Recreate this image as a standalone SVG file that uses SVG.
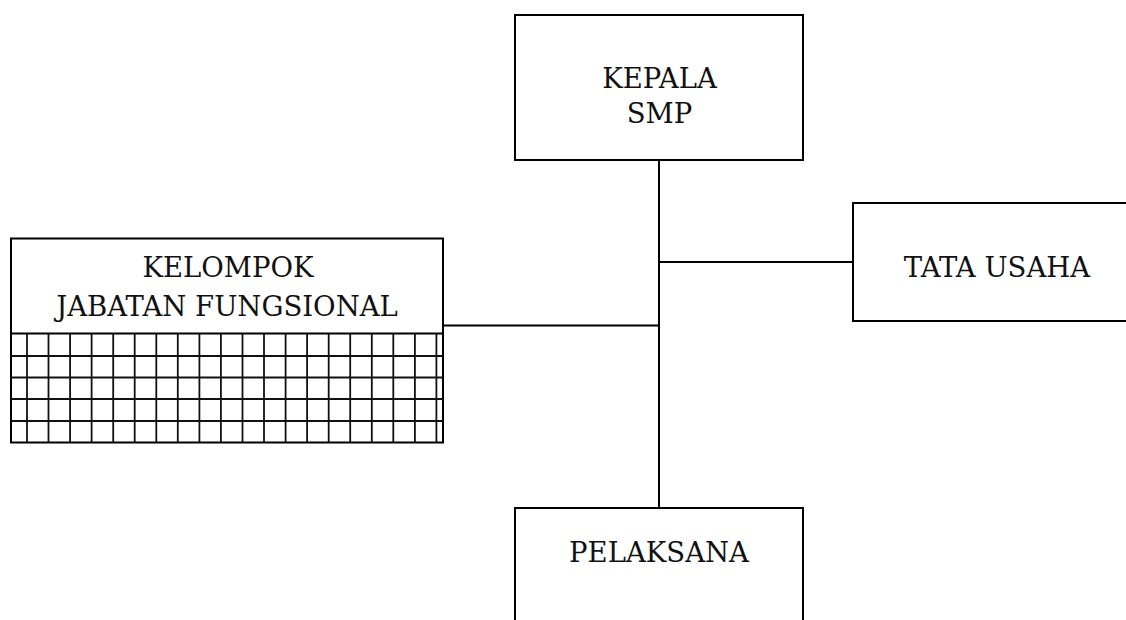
<svg xmlns="http://www.w3.org/2000/svg" width="1126" height="620" viewBox="0 0 1126 620">
<style>
.box{fill:#fff;stroke:#000;stroke-width:2}
.lbl{font-family:"DejaVu Serif","Liberation Serif",serif;font-size:27.5px;fill:#111;text-anchor:middle}
.conn{stroke:#000;stroke-width:2;fill:none}
.grid{stroke:#111;stroke-width:1.8;fill:none}
</style>
<rect width="1126" height="620" fill="#fff"/>
<g id="connectors">
<line class="conn" x1="659" y1="160" x2="659" y2="508"/>
<line class="conn" x1="659" y1="262" x2="853" y2="262"/>
<line class="conn" x1="443" y1="325.5" x2="659" y2="325.5"/>
</g>
<g id="kepala">
<rect class="box" x="515" y="15" width="288" height="145"/>
<text class="lbl" x="659.5" y="88">KEPALA</text>
<text class="lbl" x="659.5" y="123">SMP</text>
</g>
<g id="tata-usaha">
<rect class="box" x="853" y="203" width="290" height="118"/>
<text class="lbl" x="997" y="277">TATA USAHA</text>
</g>
<g id="pelaksana">
<rect class="box" x="515" y="508" width="288" height="130"/>
<text class="lbl" x="659" y="562">PELAKSANA</text>
</g>
<g id="kelompok">
<rect class="box" x="11" y="238.5" width="432" height="204"/>
<line class="conn" x1="11" y1="333.5" x2="443" y2="333.5"/>
<g class="grid">
<path d="M27 334V442.5M48.5 334V442.5M70.1 334V442.5M91.6 334V442.5M113.2 334V442.5M134.7 334V442.5M156.3 334V442.5M177.8 334V442.5M199.4 334V442.5M220.9 334V442.5M242.5 334V442.5M264 334V442.5M285.6 334V442.5M307.1 334V442.5M328.7 334V442.5M350.2 334V442.5M371.8 334V442.5M393.3 334V442.5M414.9 334V442.5M436.4 334V442.5"/>
<path d="M11 356H443M11 377.5H443M11 399H443M11 421H443"/>
</g>
<text class="lbl" x="228" y="277">KELOMPOK</text>
<text class="lbl" x="227" y="316">JABATAN FUNGSIONAL</text>
</g>
</svg>
